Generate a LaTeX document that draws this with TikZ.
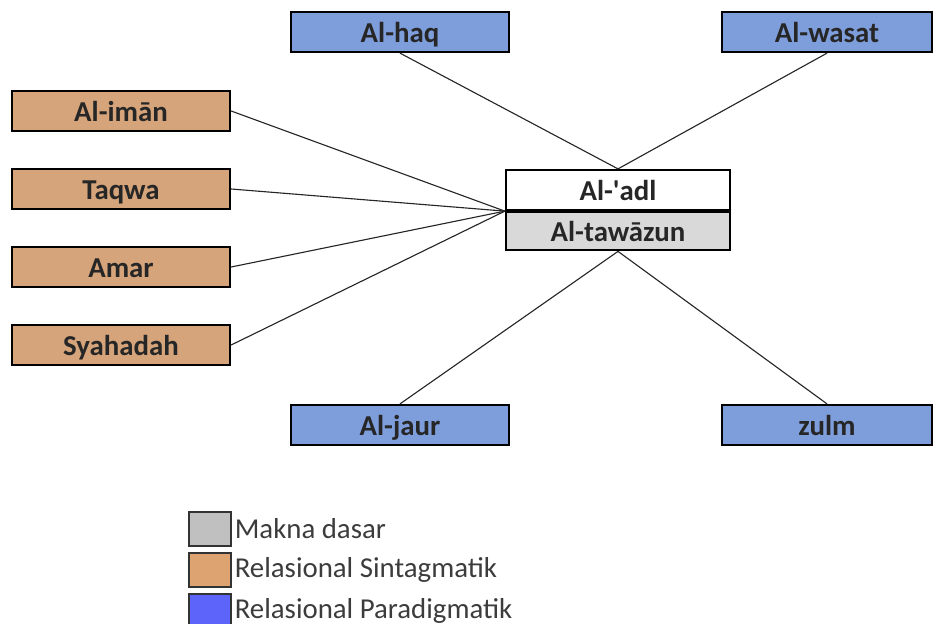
\documentclass[tikz,border=0pt]{standalone}
\usepackage{fontspec}
\setmainfont{Carlito}
\usetikzlibrary{positioning}

\definecolor{paraBlue}{RGB}{126,157,219}
\definecolor{sintTan}{RGB}{214,164,122}
\definecolor{dasarGray}{RGB}{217,217,217}
\definecolor{keyGray}{RGB}{192,192,192}
\definecolor{keyTan}{RGB}{221,164,114}
\definecolor{keyBlue}{RGB}{92,100,250}
\definecolor{keyText}{RGB}{60,60,60}

\begin{document}
\begin{tikzpicture}[x=0.025cm, y=-0.025cm,
		word/.style={rectangle, draw=black, line width=1.6pt, minimum height=1cm, inner sep=0pt, text height=16pt, text depth=1pt, font=\fontsize{20.5}{24}\selectfont\bfseries, text=black!85},
		para/.style={word, fill=paraBlue, minimum width=5.43cm},
		sint/.style={word, fill=sintTan, minimum width=5.45cm},
		link/.style={draw=black!85, line width=0.8pt},
		keybox/.style={rectangle, draw=black!80, line width=1pt, minimum width=1.05cm, minimum height=0.85cm, inner sep=0pt},
		keytext/.style={font=\fontsize{20.5}{24}\selectfont, text=keyText, inner sep=1pt, anchor=west}]
		
		\useasboundingbox (0,0) rectangle (936,624);
		
		% Centre
		\node[word, fill=white, minimum width=5.6cm] (adl) at (618, 190) {Al-\textquotesingle adl};
		\node[word, fill=dasarGray, minimum width=5.6cm, minimum height=0.95cm, anchor=north] (tawazun) at (adl.south) {Al-taw\={a}zun};
		
		% Paradigmatik
		\node[para] (haq) at (400, 32) {Al-haq};
		\node[para, minimum width=5.25cm] (wasat) at (827, 32) {Al-wasat};
		\node[para] (jaur) at (400, 425) {Al-jaur};
		\node[para, minimum width=5.25cm] (zulm) at (827, 425) {zulm};
		
		% Sintagmatik
		\node[sint] (iman) at (121, 111) {Al-im\={a}n};
		\node[sint] (taqwa) at (121, 189) {Taqwa};
		\node[sint] (amar) at (121, 267) {Amar};
		\node[sint] (syahadah) at (121, 345) {Syahadah};
		
		% Connect
		\draw[link] (haq.south) -- (adl.north);
		\draw[link] (wasat.south) -- (adl.north);
		\draw[link] (jaur.north) -- (tawazun.south);
		\draw[link] (zulm.north) -- (tawazun.south);
		\draw[link] (iman.east) -- (adl.south west);
		\draw[link] (taqwa.east) -- (adl.south west);
		\draw[link] (amar.east) -- (adl.south west);
		\draw[link] (syahadah.east) -- (adl.south west);
		
		% Legend
		\node[keybox, fill=keyGray] (keyDasar) at (210, 529) {};
		\node[keytext] (txtDasar) at ([xshift=1pt]keyDasar.east) {Makna dasar};
		\node[keybox, fill=keyTan] (keySint) at (210, 570) {};
		\node[keytext] (txtSint) at ([xshift=1pt]keySint.east) {Relasional Sintagmatik};
		\node[keybox, fill=keyBlue] (keyPara) at (210, 611) {};
		\node[keytext] (txtPara) at ([xshift=1pt]keyPara.east) {Relasional Paradigmatik};
		
	\end{tikzpicture}
\end{document}
